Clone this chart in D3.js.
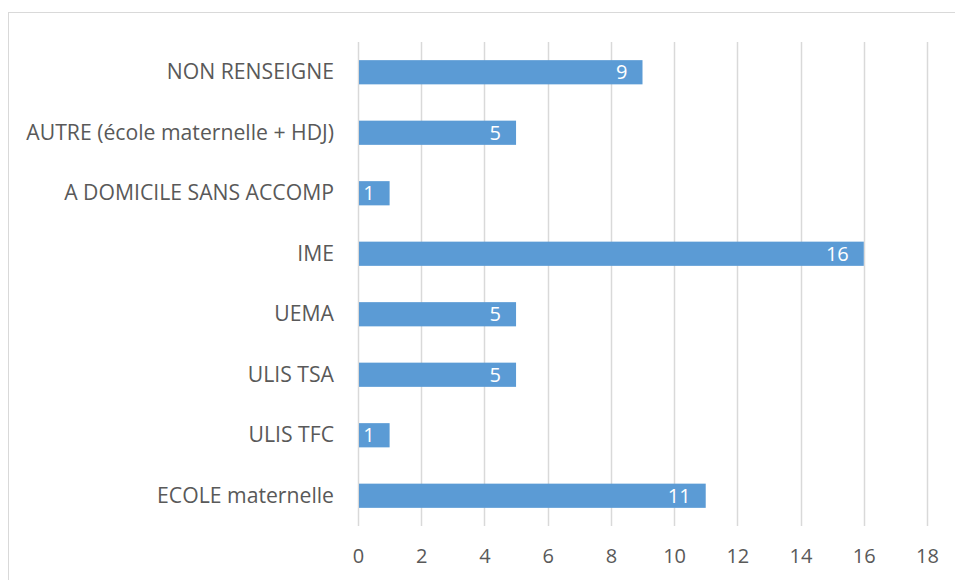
<!DOCTYPE html>
<html>
<head>
<meta charset="utf-8">
<script src="https://cdn.jsdelivr.net/npm/d3@7"></script>
<style>
  body { margin: 0; background: #fff; }
  svg { display: block; font-family: "Open Sans", "Liberation Sans", sans-serif; }
</style>
</head>
<body>
<script>
// categories top to bottom, with their values
const categories = [
  "NON RENSEIGNE",
  "AUTRE (école maternelle + HDJ)",
  "A DOMICILE SANS ACCOMP",
  "IME",
  "UEMA",
  "ULIS TSA",
  "ULIS TFC",
  "ECOLE maternelle"
];
const values = [9, 5, 1, 16, 5, 5, 1, 11];
const xTicks = [0, 2, 4, 6, 8, 10, 12, 14, 16, 18];

const width = 955, height = 580;
const margin = { top: 42, left: 358, right: 955 - 927, bottom: 580 - 526 };
const fontSize = 21.2;

const svg = d3.select("body").append("svg")
    .attr("width", width)
    .attr("height", height);

// chart frame (cut off at right and bottom like the screenshot)
svg.append("rect")
    .attr("x", 8.5).attr("y", 12.5)
    .attr("width", 960).attr("height", 600)
    .attr("fill", "none")
    .attr("stroke", "#d9d9d9");

const x = d3.scaleLinear().domain([0, 18]).range([margin.left, width - margin.right]);
const y = d3.scaleBand().domain(categories)
    .range([margin.top, height - margin.bottom])
    .paddingInner(0.6).paddingOuter(0.3);

const data = categories.map((c, i) => ({ cat: c, value: values[i] }));

// vertical gridlines
svg.append("g").selectAll("line")
    .data(xTicks)
    .enter().append("line")
    .attr("x1", d => Math.round(x(d)) + 0.5)
    .attr("x2", d => Math.round(x(d)) + 0.5)
    .attr("y1", margin.top)
    .attr("y2", height - margin.bottom)
    .attr("stroke", "#d9d9d9")
    .attr("stroke-width", 1.5);

// bars
svg.append("g").selectAll("rect")
    .data(data)
    .enter().append("rect")
    .attr("x", x(0) + 1)
    .attr("y", d => y(d.cat))
    .attr("width", d => x(d.value) - x(0) - 1)
    .attr("height", y.bandwidth())
    .attr("fill", "#5b9bd5");

// value labels
svg.append("g").selectAll("text")
    .data(data)
    .enter().append("text")
    .attr("x", d => x(d.value) - 15)
    .attr("y", d => y(d.cat) + y.bandwidth() / 2)
    .attr("dy", "0.36em")
    .attr("text-anchor", "end")
    .attr("fill", "#fff")
    .attr("font-size", 20)
    .text(d => d.value);

// category labels
const yAxis = svg.append("g")
    .attr("transform", `translate(${x(0)},0)`)
    .call(d3.axisLeft(y).tickSize(0).tickPadding(24));
yAxis.select(".domain").remove();
yAxis.selectAll("text")
    .attr("font-family", "'Open Sans', sans-serif")
    .attr("font-size", fontSize)
    .attr("fill", "#595959");

// x tick labels
const xAxis = svg.append("g")
    .attr("transform", `translate(0,${height - margin.bottom})`)
    .call(d3.axisBottom(x).tickValues(xTicks).tickSize(0).tickPadding(23));
xAxis.select(".domain").remove();
xAxis.selectAll("text")
    .attr("font-family", "'Open Sans', sans-serif")
    .attr("font-size", 20)
    .attr("fill", "#595959");
</script>
</body>
</html>
